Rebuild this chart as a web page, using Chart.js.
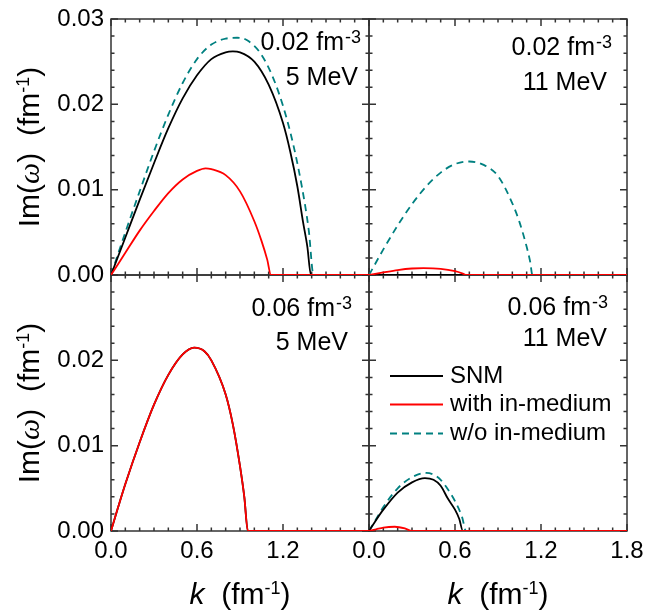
<!DOCTYPE html>
<html>
<head>
<meta charset="utf-8">
<script src="https://cdn.jsdelivr.net/npm/chart.js@4.4.0/dist/chart.umd.min.js"></script>
<style>
  html, body { margin: 0; padding: 0; background: #fff; }
</style>
</head>
<body>
<canvas id="c" width="645" height="613"></canvas>
<script>
// tick labels
const xMajor = [0, 0.6, 1.2, 1.8];
const yMajor = [0, 0.01, 0.02, 0.03];
const densities = ['0.02', '0.02', '0.06', '0.06'];
const energies = ['5 MeV', '11 MeV', '5 MeV', '11 MeV'];
const seriesNames = ['SNM', 'with in-medium', 'w/o in-medium'];

// 0.02 fm^-3, 5 MeV
const kTL_snm = [0, 0.1, 0.2, 0.3, 0.4, 0.5, 0.6, 0.7, 0.8, 0.85, 0.9, 1.0, 1.1, 1.2, 1.25, 1.3, 1.34, 1.37, 1.395, 1.8];
const imTL_snm = [0, 0.0044, 0.0088, 0.0131, 0.0172, 0.0207, 0.0234, 0.0253, 0.0261, 0.0262, 0.0261, 0.0250, 0.0223, 0.0178, 0.0145, 0.0104, 0.0062, 0.0033, 0, 0];
const kTL_with = [0, 0.1, 0.2, 0.3, 0.4, 0.5, 0.6, 0.66, 0.7, 0.8, 0.9, 1.0, 1.05, 1.09, 1.116, 1.8];
const imTL_with = [0, 0.0026, 0.0052, 0.0075, 0.0096, 0.0112, 0.0122, 0.0125, 0.0124, 0.0117, 0.0098, 0.0063, 0.0040, 0.0018, 0, 0];
const kTL_wo = [0, 0.1, 0.2, 0.3, 0.4, 0.5, 0.6, 0.7, 0.8, 0.88, 0.95, 1.05, 1.15, 1.25, 1.33, 1.38, 1.413, 1.8];
const imTL_wo = [0, 0.0050, 0.0098, 0.0145, 0.0188, 0.0225, 0.0253, 0.0270, 0.0277, 0.0278, 0.0275, 0.0258, 0.0223, 0.0168, 0.0105, 0.0052, 0, 0];

// 0.02 fm^-3, 11 MeV
const kTR_snm = [0, 1.8];
const imTR_snm = [0, 0];
const kTR_with = [0, 0.1, 0.2, 0.3, 0.38, 0.5, 0.6, 0.65, 0.68, 1.8];
const imTR_with = [0, 0.0003, 0.00058, 0.00076, 0.0008, 0.00072, 0.00045, 0.0002, 0, 0];
const kTR_wo = [0, 0.1, 0.2, 0.3, 0.4, 0.5, 0.6, 0.7, 0.8, 0.9, 1.0, 1.05, 1.1, 1.125, 1.14, 1.8];
const imTR_wo = [0, 0.0030, 0.0058, 0.0083, 0.0104, 0.0120, 0.0130, 0.0133, 0.0129, 0.0116, 0.0084, 0.0062, 0.0033, 0.0015, 0, 0];

// 0.06 fm^-3, 5 MeV
const kBL_snm = [0, 0.05, 0.1, 0.2, 0.3, 0.4, 0.5, 0.58, 0.65, 0.7, 0.8, 0.85, 0.9, 0.93, 0.955, 1.8];
const imBL_snm = [0, 0.0028, 0.0055, 0.0104, 0.0148, 0.0183, 0.0207, 0.0215, 0.0211, 0.0200, 0.0160, 0.0125, 0.0076, 0.0040, 0, 0];
const kBL_with = [0, 0.05, 0.1, 0.2, 0.3, 0.4, 0.5, 0.58, 0.65, 0.7, 0.8, 0.85, 0.9, 0.93, 0.955, 1.8];
const imBL_with = [0, 0.0028, 0.0055, 0.0104, 0.0148, 0.0183, 0.0207, 0.0215, 0.0211, 0.0200, 0.0160, 0.0125, 0.0076, 0.0040, 0, 0];

// 0.06 fm^-3, 11 MeV
const kBR_snm = [0, 0.05, 0.1, 0.2, 0.3, 0.39, 0.45, 0.5, 0.55, 0.6, 0.63, 0.655, 1.8];
const imBR_snm = [0, 0.0013, 0.0025, 0.0045, 0.0057, 0.0062, 0.0060, 0.0053, 0.0038, 0.0025, 0.0014, 0, 0];
const kBR_with = [0, 0.05, 0.1, 0.18, 0.25, 0.3, 1.8];
const imBR_with = [0, 0.0002, 0.0004, 0.0005, 0.0003, 0, 0];
const kBR_wo = [0, 0.05, 0.1, 0.2, 0.3, 0.4, 0.45, 0.5, 0.55, 0.6, 0.65, 0.677, 1.8];
const imBR_wo = [0, 0.0014, 0.0028, 0.0050, 0.0063, 0.0068, 0.0066, 0.0060, 0.0049, 0.0035, 0.0016, 0, 0];

const FONT = "'Liberation Sans', Arial, sans-serif";
const styles = {
  'SNM': { color: '#000000', dash: [] },
  'with in-medium': { color: '#ff0000', dash: [] },
  'w/o in-medium': { color: '#008080', dash: [7, 5] },
};

function ds(label, ks, vals, xID, yID) {
  const st = styles[label];
  return {
    label,
    data: ks.map((k, i) => ({ x: k, y: vals[i] })),
    xAxisID: xID,
    yAxisID: yID,
    borderColor: st.color,
    borderDash: st.dash,
    borderWidth: 1.8,
    pointRadius: 0,
    fill: false,
    tension: 0.4,
    cubicInterpolationMode: 'monotone',
  };
}

// first dataset ends up on top
const datasets = [
  ds('with in-medium', kTL_with, imTL_with, 'xL', 'yT'),
  ds('with in-medium', kTR_with, imTR_with, 'xR', 'yT'),
  ds('with in-medium', kBL_with, imBL_with, 'xL', 'yB'),
  ds('with in-medium', kBR_with, imBR_with, 'xR', 'yB'),
  ds('SNM', kTL_snm, imTL_snm, 'xL', 'yT'),
  ds('SNM', kTR_snm, imTR_snm, 'xR', 'yT'),
  ds('SNM', kBL_snm, imBL_snm, 'xL', 'yB'),
  ds('SNM', kBR_snm, imBR_snm, 'xR', 'yB'),
  ds('w/o in-medium', kTL_wo, imTL_wo, 'xL', 'yT'),
  ds('w/o in-medium', kTR_wo, imTR_wo, 'xR', 'yT'),
  ds('w/o in-medium', kBR_wo, imBR_wo, 'xR', 'yB'),
];

function fixY(s) {
  s.width = 111;
  s.paddingTop = s.paddingBottom = s.paddingLeft = s.paddingRight = 0;
}
function fixX(s) {
  s.height = 82;
  s.paddingTop = s.paddingBottom = s.paddingLeft = s.paddingRight = 0;
}

function xAxis(hideLast) {
  return {
    type: 'linear', position: 'bottom', stack: 'k',
    min: 0, max: 1.8,
    grid: { display: false, drawTicks: false },
    border: { display: false },
    afterBuildTicks: (s) => { s.ticks = xMajor.map(v => ({ value: v })); },
    afterFit: fixX,
    ticks: {
      color: '#000', padding: 6, maxRotation: 0, autoSkip: false,
      font: { family: FONT, size: 24 },
      callback: (v) => (hideLast && v > 1.75) ? '' : v.toFixed(1),
    },
  };
}
function yAxis(hideTop) {
  return {
    type: 'linear', position: 'left', stack: 'im',
    min: 0, max: 0.03,
    grid: { display: false, drawTicks: false },
    border: { display: false },
    afterBuildTicks: (s) => { s.ticks = yMajor.map(v => ({ value: v })); },
    afterFit: fixY,
    ticks: {
      color: '#000', padding: 7, autoSkip: false,
      font: { family: FONT, size: 24 },
      callback: (v) => (hideTop && v > 0.029) ? '' : v.toFixed(2),
    },
  };
}

const panelAxes = [['xL', 'yT'], ['xR', 'yT'], ['xL', 'yB'], ['xR', 'yB']];
// [right inset, baseline from top] for density line and energy line
const labelPos = [[8, 31, 11, 66], [15, 36, 20, 71], [17, 41, 21, 75], [19, 40, 20, 71]];

function runs(ctx, parts, xc, y) {
  let w = 0;
  parts.forEach(p => { ctx.font = p.f; w += ctx.measureText(p.t).width + (p.gap || 0); });
  let x = xc - w / 2;
  ctx.textAlign = 'left';
  ctx.textBaseline = 'alphabetic';
  parts.forEach(p => {
    ctx.font = p.f;
    ctx.fillText(p.t, x, y - (p.dy || 0));
    x += ctx.measureText(p.t).width + (p.gap || 0);
  });
}

const decor = {
  id: 'decor',
  beforeDatasetsDraw(chart) {
    const ctx = chart.ctx;
    ctx.save();
    ctx.strokeStyle = '#333';
    ctx.lineWidth = 1.5;
    panelAxes.forEach(([xi, yi]) => {
      const xs = chart.scales[xi], ys = chart.scales[yi];
      const l = xs.getPixelForValue(0), r = xs.getPixelForValue(1.8);
      const t = ys.getPixelForValue(0.03), b = ys.getPixelForValue(0);
      ctx.strokeRect(l, t, r - l, b - t);
      ctx.beginPath();
      for (let i = 0; i <= 18; i++) {
        const px = xs.getPixelForValue(i * 0.1);
        const len = i % 6 === 0 ? 7 : 3.5;
        ctx.moveTo(px, b); ctx.lineTo(px, b - len);
        ctx.moveTo(px, t); ctx.lineTo(px, t + len);
      }
      for (let i = 0; i <= 15; i++) {
        const py = ys.getPixelForValue(i * 0.002);
        const len = i % 5 === 0 ? 7 : 3.5;
        ctx.moveTo(l, py); ctx.lineTo(l + len, py);
        ctx.moveTo(r, py); ctx.lineTo(r - len, py);
      }
      ctx.stroke();
    });
    ctx.restore();
  },
  afterDraw(chart) {
    const ctx = chart.ctx;
    ctx.save();
    ctx.fillStyle = '#000';
    panelAxes.forEach(([xi, yi], i) => {
      const xs = chart.scales[xi], ys = chart.scales[yi];
      const r = xs.getPixelForValue(1.8), t = ys.getPixelForValue(0.03);
      const p = labelPos[i];
      ctx.textBaseline = 'alphabetic';
      ctx.font = '18px ' + FONT;
      const ws = ctx.measureText('-3').width;
      ctx.font = '25px ' + FONT;
      const wb = ctx.measureText(densities[i] + ' fm').width + 1;
      ctx.textAlign = 'left';
      ctx.fillText(densities[i] + ' fm', r - p[0] - ws - wb, t + p[1]);
      ctx.font = '18px ' + FONT;
      ctx.fillText('-3', r - p[0] - ws, t + p[1] - 7);
      ctx.font = '25px ' + FONT;
      ctx.textAlign = 'right';
      ctx.fillText(energies[i], r - p[2], t + p[3]);
    });

    // legend in the lower right panel
    const lx = chart.scales.xR.getPixelForValue(0);
    const ly = chart.scales.yB.getPixelForValue(0.03);
    const rows = [101, 129.5, 158.5];
    seriesNames.forEach((name, i) => {
      const st = styles[name];
      ctx.strokeStyle = st.color;
      ctx.lineWidth = 1.8;
      ctx.setLineDash(st.dash);
      ctx.beginPath();
      ctx.moveTo(lx + 21, ly + rows[i]);
      ctx.lineTo(lx + 74, ly + rows[i]);
      ctx.stroke();
      ctx.setLineDash([]);
      ctx.font = '24px ' + FONT;
      ctx.textAlign = 'left';
      ctx.textBaseline = 'middle';
      ctx.fillText(name, lx + 81, ly + rows[i]);
    });

    // axis titles
    const big = '30px ' + FONT, sup = '18px ' + FONT;
    ['yT', 'yB'].forEach(id => {
      const ys = chart.scales[id];
      const yc = (ys.getPixelForValue(0) + ys.getPixelForValue(0.03)) / 2;
      ctx.save();
      ctx.translate(39, yc);
      ctx.rotate(-Math.PI / 2);
      runs(ctx, [
        { t: 'Im(', f: big },
        { t: 'ω', f: "italic 30px 'Liberation Serif', serif" },
        { t: ')  (fm', f: big },
        { t: '-1', f: sup, dy: 10 },
        { t: ')', f: big },
      ], 0, 0);
      ctx.restore();
    });
    ['xL', 'xR'].forEach(id => {
      const xs = chart.scales[id];
      const xc = (xs.getPixelForValue(0) + xs.getPixelForValue(1.8)) / 2;
      runs(ctx, [
        { t: 'k', f: 'italic 30px ' + FONT },
        { t: '  (fm', f: big },
        { t: '-1', f: sup, dy: 10 },
        { t: ')', f: big },
      ], xc, 604);
    });
    ctx.restore();
  },
};

new Chart(document.getElementById('c'), {
  type: 'line',
  data: { datasets },
  options: {
    responsive: false,
    animation: false,
    devicePixelRatio: 1,
    layout: { padding: { top: 19, right: 18, left: 0, bottom: 0 } },
    plugins: { legend: { display: false }, tooltip: { enabled: false } },
    scales: {
      xL: xAxis(true),
      xR: xAxis(false),
      yB: yAxis(true),
      yT: yAxis(false),
    },
  },
  plugins: [decor],
});
</script>
</body>
</html>
